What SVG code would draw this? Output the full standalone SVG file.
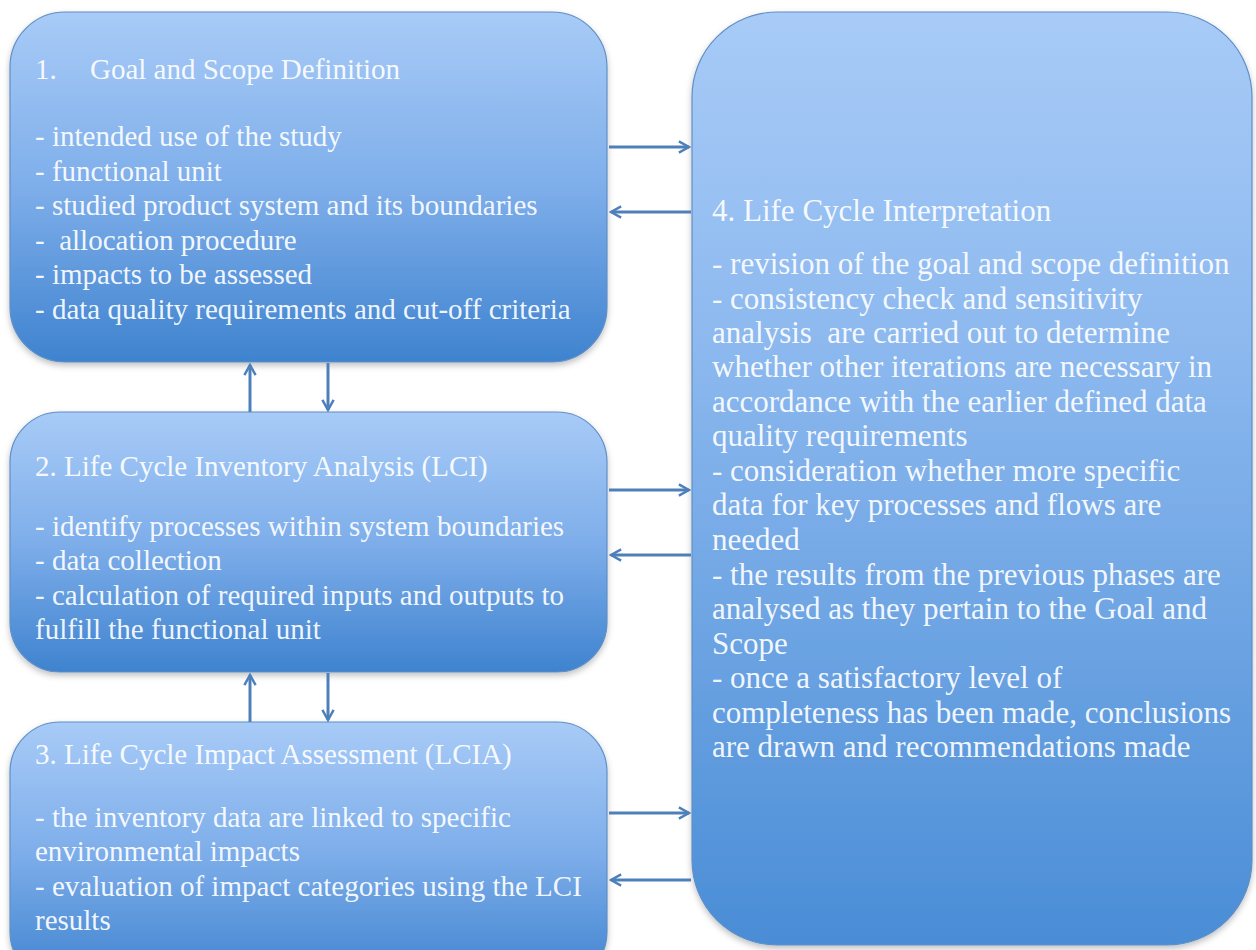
<svg xmlns="http://www.w3.org/2000/svg" width="1256" height="950" viewBox="0 0 1256 950">
<style>
.box{stroke:#5f8fc6;stroke-width:1.2;filter:url(#sh)}
.t{font-family:"Liberation Serif","Times New Roman",serif;font-size:29px;fill:#ffffff;fill-opacity:0.93}
.t4{font-size:31px}
.c{stroke:#4d80ba;stroke-width:3;fill:none;marker-end:url(#ah)}
</style>
<defs>
<linearGradient id="g1" x1="0" y1="0" x2="0" y2="1">
<stop offset="0" stop-color="#a8cbf7"/>
<stop offset="0.5" stop-color="#7eaeea"/>
<stop offset="1" stop-color="#3f83cf"/>
</linearGradient>
<linearGradient id="g4" x1="0" y1="0" x2="0" y2="1">
<stop offset="0" stop-color="#a8cbf7"/>
<stop offset="0.35" stop-color="#8db9ef"/>
<stop offset="1" stop-color="#4a8dd6"/>
</linearGradient>
<filter id="sh" x="-5%" y="-5%" width="110%" height="115%">
<feDropShadow dx="0" dy="3" stdDeviation="3" flood-color="#000" flood-opacity="0.25"/>
</filter>
<marker id="ah" viewBox="0 0 12 12" refX="10" refY="6" markerWidth="4.5" markerHeight="4.5" orient="auto" markerUnits="strokeWidth">
<path d="M1,1 L10,6 L1,11" fill="none" stroke="#4d80ba" stroke-width="2.2"/>
</marker>
</defs>
<rect width="1256" height="950" fill="#ffffff"/>

<g id="node1">
<rect class="box" x="10" y="12" width="597" height="350" rx="55" fill="url(#g1)"/>
<text class="t" x="35" y="79">1.<tspan x="90">Goal and Scope Definition</tspan></text>
<text class="t" x="35" y="146">- intended use of the study</text>
<text class="t" x="35" y="181">- functional unit</text>
<text class="t" x="35" y="215">- studied product system and its boundaries</text>
<text class="t" x="35" y="250" xml:space="preserve">-  allocation procedure</text>
<text class="t" x="35" y="284">- impacts to be assessed</text>
<text class="t" x="35" y="319">- data quality requirements and cut-off criteria</text>
</g>

<g id="node2">
<rect class="box" x="10" y="412" width="597" height="260" rx="50" fill="url(#g1)"/>
<text class="t" x="35" y="476">2. Life Cycle Inventory Analysis (LCI)</text>
<text class="t" x="35" y="536">- identify processes within system boundaries</text>
<text class="t" x="35" y="570">- data collection</text>
<text class="t" x="35" y="605">- calculation of required inputs and outputs to</text>
<text class="t" x="35" y="639">fulfill the functional unit</text>
</g>

<g id="node3">
<rect class="box" x="10" y="722" width="597" height="260" rx="50" fill="url(#g1)"/>
<text class="t" x="35" y="764">3. Life Cycle Impact Assessment (LCIA)</text>
<text class="t" x="35" y="827">- the inventory data are linked to specific</text>
<text class="t" x="35" y="861">environmental impacts</text>
<text class="t" x="35" y="896">- evaluation of impact categories using the LCI</text>
<text class="t" x="35" y="930">results</text>
</g>

<g id="node4">
<rect class="box" x="692" y="12" width="560" height="933" rx="85" fill="url(#g4)"/>
<text class="t t4" x="712" y="221">4. Life Cycle Interpretation</text>
<text class="t t4" x="712" y="274">- revision of the goal and scope definition</text>
<text class="t t4" x="712" y="309">- consistency check and sensitivity</text>
<text class="t t4" x="712" y="343" xml:space="preserve">analysis  are carried out to determine</text>
<text class="t t4" x="712" y="377">whether other iterations are necessary in</text>
<text class="t t4" x="712" y="412">accordance with the earlier defined data</text>
<text class="t t4" x="712" y="446">quality requirements</text>
<text class="t t4" x="712" y="481">- consideration whether more specific</text>
<text class="t t4" x="712" y="515">data for key processes and flows are</text>
<text class="t t4" x="712" y="550">needed</text>
<text class="t t4" x="712" y="585">- the results from the previous phases are</text>
<text class="t t4" x="712" y="619">analysed as they pertain to the Goal and</text>
<text class="t t4" x="712" y="654">Scope</text>
<text class="t t4" x="712" y="688">- once a satisfactory level of</text>
<text class="t t4" x="712" y="723">completeness has been made, conclusions</text>
<text class="t t4" x="712" y="757">are drawn and recommendations made</text>
</g>

<g id="connectors">
<line class="c" x1="609" y1="147" x2="689" y2="147"/>
<line class="c" x1="691" y1="212" x2="611" y2="212"/>
<line class="c" x1="609" y1="490" x2="689" y2="490"/>
<line class="c" x1="691" y1="555" x2="611" y2="555"/>
<line class="c" x1="609" y1="813" x2="689" y2="813"/>
<line class="c" x1="691" y1="880" x2="611" y2="880"/>
<line class="c" x1="250" y1="412" x2="250" y2="365"/>
<line class="c" x1="328" y1="363" x2="328" y2="410"/>
<line class="c" x1="250" y1="722" x2="250" y2="675"/>
<line class="c" x1="328" y1="673" x2="328" y2="720"/>
</g>
</svg>
